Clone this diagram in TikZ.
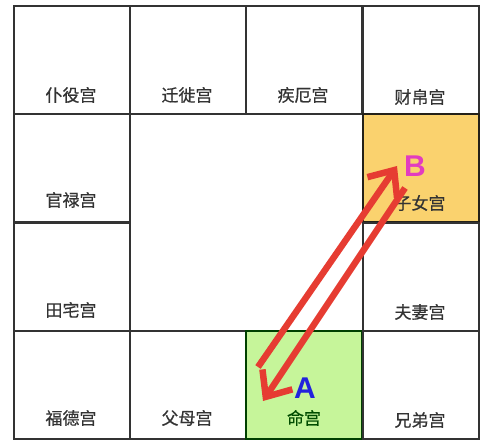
\documentclass[tikz,border=0pt]{standalone}
\usepackage{fontspec}
\newfontfamily\cjk[FakeBold=0.6]{Noto Sans CJK SC}
\newfontfamily\latin{Liberation Sans}
\usetikzlibrary{arrows.meta}
\definecolor{gridc}{HTML}{333333}
\definecolor{yellowc}{HTML}{FAD26E}
\definecolor{greenc}{HTML}{C6F59A}
\definecolor{redc}{HTML}{E63C32}
\definecolor{magc}{HTML}{E23CC0}
\definecolor{bluec}{HTML}{2222DD}
\begin{document}
\begin{tikzpicture}[x=1pt,y=-1pt,
  cell/.style={draw=gridc,line width=2pt,minimum width=116pt,minimum height=108pt,anchor=north west,inner sep=0pt},
  lbl/.style={font=\cjk\fontsize{17}{17}\selectfont,text=gridc,inner sep=0pt},
  arr/.style={draw=redc,line width=6.5pt,-{Straight Barb[length=21pt,width=36pt]}},
  letter/.style={font=\latin\bfseries\fontsize{30}{30}\selectfont,inner sep=0pt}]
\useasboundingbox (0,0) rectangle (494,446);
\fill[white] (0,0) rectangle (494,446);
% cells
\node[cell] (c11) at (13,5) {};
\node[cell] (c12) at (129,5) {};
\node[cell] (c13) at (245,5) {};
\node[cell] (c14) at (362,5) {};
\node[cell] (c21) at (13,113) {};
\node[cell,fill=yellowc,draw=gridc!80!yellowc!40!black] (c24) at (362,113) {};
\node[cell] (c31) at (13,222) {};
\node[cell] (c34) at (362,222) {};
\node[cell] (c41) at (13,330) {};
\node[cell] (c42) at (129,330) {};
\node[cell,fill=greenc,draw=green!25!black] (c43) at (245,330) {};
\node[cell] (c44) at (362,330) {};
% labels
\node[lbl] (l11) at (71,95) {仆役宫};
\node[lbl] (l12) at (187,95) {迁徙宫};
\node[lbl] (l13) at (303,95) {疾厄宫};
\node[lbl] (l14) at (420,97) {财帛宫};
\node[lbl] (l21) at (71,200) {官禄宫};
\node[lbl] (l24) at (420,203) {子女宫};
\node[lbl] (l31) at (71,310) {田宅宫};
\node[lbl] (l34) at (420,312) {夫妻宫};
\node[lbl] (l41) at (71,418) {福德宫};
\node[lbl] (l42) at (187,418) {父母宫};
\node[lbl,text=green!30!black] (l43) at (304,418) {命宫};
\node[lbl] (l44) at (420,420) {兄弟宫};
% letters
\node[letter,text=magc] (B) at (415,166) {B};
\node[letter,text=bluec] (A) at (305,388) {A};
% arrows
\coordinate (upS) at (258,367);
\coordinate (upE) at (397,166);
\coordinate (dnS) at (405,188);
\coordinate (dnE) at (263,401);
\draw[arr] (upS) -- (upE);
\draw[arr] (dnS) -- (dnE);
\end{tikzpicture}
\end{document}
